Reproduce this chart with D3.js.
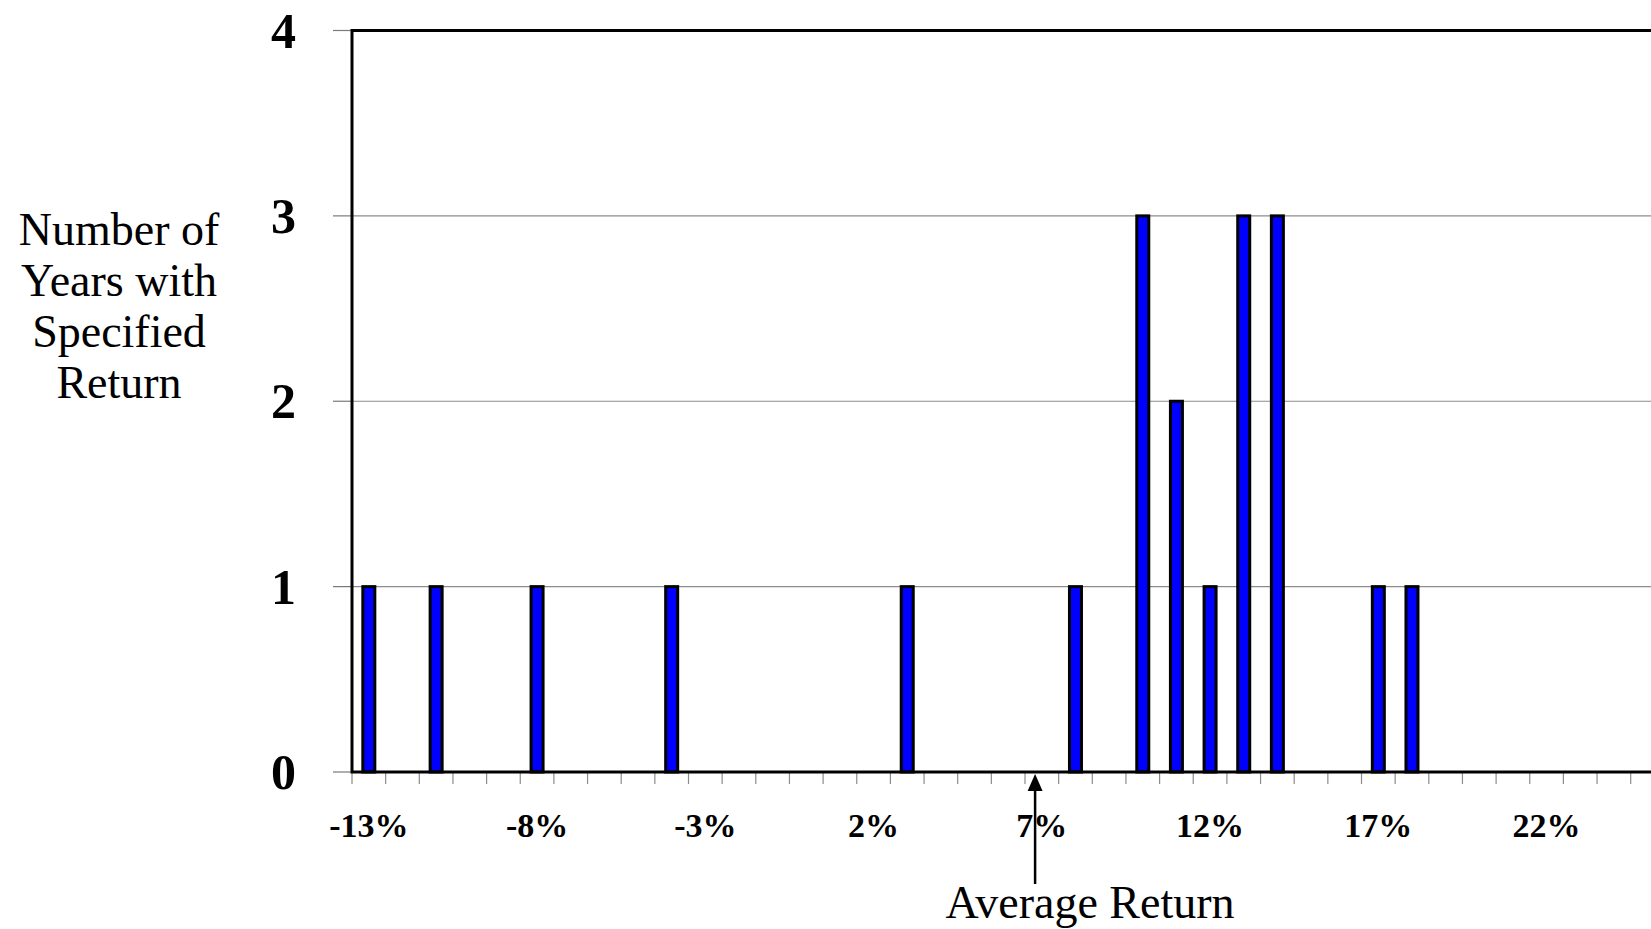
<!DOCTYPE html>
<html>
<head>
<meta charset="utf-8">
<script src="https://cdn.jsdelivr.net/npm/d3@7"></script>
<style>
  html, body { margin: 0; padding: 0; background: #ffffff; }
  svg { display: block; }
</style>
</head>
<body>
<svg id="chart" width="1651" height="929"></svg>
<script>
// return buckets on the x axis (percent)
const categories = [-13, -12, -11, -10, -9, -8, -7, -6, -5, -4, -3, -2, -1, 0, 1, 2, 3, 4, 5, 6, 7,
                    8, 9, 10, 11, 12, 13, 14, 15, 16, 17, 18, 19, 20, 21, 22, 23, 24, 25, 26];
// returns that occurred and how many years had each
const returns = [-13, -11, -8, -4, 3, 8, 10, 11, 12, 13, 14, 17, 18];
const years   = [1, 1, 1, 1, 1, 1, 3, 2, 1, 3, 3, 1, 1];
const xTickLabels = [-13, -8, -3, 2, 7, 12, 17, 22];
const yTicks = [0, 1, 2, 3, 4];
const avgReturn = 6.8;
const yTitle = ["Number of", "Years with", "Specified", "Return"];

let chart = d3.select("#chart");
let serif = "'Liberation Serif', 'Times New Roman', serif";

let plotLeft = 352, plotTop = 30.5, plotBottom = 772, step = 33.65;

let x = d3.scaleBand()
    .domain(categories)
    .range([plotLeft, plotLeft + categories.length * step]);

let xLin = d3.scaleLinear()
    .domain([categories[0] - 0.5, categories[categories.length - 1] + 0.5])
    .range(x.range());

let y = d3.scaleLinear()
    .domain([0, 4])
    .range([plotBottom, plotTop]);

// gridlines
chart.selectAll(".grid")
    .data(yTicks.filter(function(d) { return d > 0 && d < 4; }))
    .enter()
    .append("line")
    .attr("x1", plotLeft)
    .attr("x2", x.range()[1])
    .attr("y1", function(d) { return y(d); })
    .attr("y2", function(d) { return y(d); })
    .attr("stroke", "#8c8c8c")
    .attr("stroke-width", 1.2);

// y tick marks
chart.selectAll(".ytick")
    .data(yTicks)
    .enter()
    .append("line")
    .attr("x1", plotLeft - 19)
    .attr("x2", plotLeft)
    .attr("y1", function(d) { return y(d); })
    .attr("y2", function(d) { return y(d); })
    .attr("stroke", "#7a7a7a")
    .attr("stroke-width", 1.2);

// x tick marks at bucket edges
chart.selectAll(".xtick")
    .data(categories)
    .enter()
    .append("line")
    .attr("x1", function(d) { return x(d); })
    .attr("x2", function(d) { return x(d); })
    .attr("y1", plotBottom)
    .attr("y2", plotBottom + 12)
    .attr("stroke", "#8c8c8c")
    .attr("stroke-width", 1.2);

// bars
let barW = 12;
chart.selectAll(".bar")
    .data(returns)
    .enter()
    .append("rect")
    .attr("x", function(d) { return x(d) + (x.bandwidth() - barW) / 2; })
    .attr("y", function(d, i) { return y(years[i]); })
    .attr("width", barW)
    .attr("height", function(d, i) { return y(0) - y(years[i]); })
    .attr("fill", "#0000ff")
    .attr("stroke", "#000000")
    .attr("stroke-width", 3);

// plot frame
chart.append("rect")
    .attr("x", plotLeft)
    .attr("y", plotTop)
    .attr("width", x.range()[1] - plotLeft)
    .attr("height", plotBottom - plotTop)
    .attr("fill", "none")
    .attr("stroke", "#000000")
    .attr("stroke-width", 3);

// y tick labels
chart.selectAll(".ylabel")
    .data(yTicks)
    .enter()
    .append("text")
    .attr("x", 296)
    .attr("y", function(d) { return y(d); })
    .attr("dy", "0.34em")
    .attr("text-anchor", "end")
    .style("font-family", serif)
    .style("font-weight", "bold")
    .style("font-size", "50px")
    .text(function(d) { return d; });

// x tick labels
chart.selectAll(".xlabel")
    .data(xTickLabels)
    .enter()
    .append("text")
    .attr("x", function(d) { return x(d) + x.bandwidth() / 2; })
    .attr("y", 837)
    .attr("text-anchor", "middle")
    .style("font-family", serif)
    .style("font-weight", "bold")
    .style("font-size", "34px")
    .text(function(d) { return d + "%"; });

// y axis title
chart.selectAll(".ytitle")
    .data(yTitle)
    .enter()
    .append("text")
    .attr("x", 119)
    .attr("y", function(d, i) { return 245 + i * 51; })
    .attr("text-anchor", "middle")
    .style("font-family", serif)
    .style("font-size", "46px")
    .text(function(d) { return d; });

// average return arrow
let ax = xLin(avgReturn);
chart.append("line")
    .attr("x1", ax)
    .attr("x2", ax)
    .attr("y1", 884)
    .attr("y2", 788)
    .attr("stroke", "#000000")
    .attr("stroke-width", 2.5);

chart.append("path")
    .attr("d", "M" + ax + ",774 L" + (ax - 7.5) + ",791 L" + (ax + 7.5) + ",791 Z")
    .attr("fill", "#000000");

chart.append("text")
    .attr("x", 1090)
    .attr("y", 918)
    .attr("text-anchor", "middle")
    .style("font-family", serif)
    .style("font-size", "46px")
    .text("Average Return");
</script>
</body>
</html>
